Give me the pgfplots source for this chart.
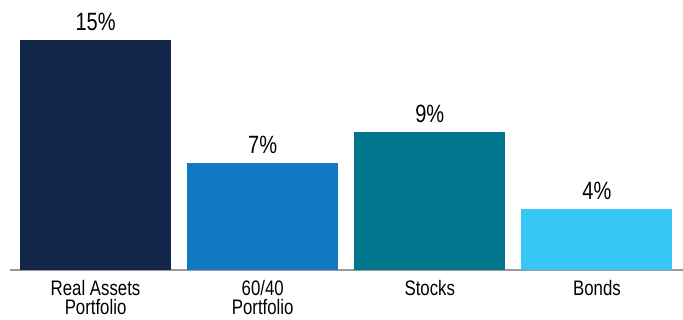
\documentclass[border=0pt]{standalone}
\usepackage{pgfplots}
\pgfplotsset{compat=1.18}
\usepackage{fontspec}
\setmainfont{Liberation Sans}[FakeStretch=0.8]
\definecolor{c1}{HTML}{12264A}
\definecolor{c2}{HTML}{1079C1}
\definecolor{c3}{HTML}{00778C}
\definecolor{c4}{HTML}{38C6F4}
\begin{document}
\begin{tikzpicture}
\begin{axis}[
  scale only axis,
  width=673pt, height=230pt,
  xmin=-0.512, xmax=3.515,
  ymin=0, ymax=15,
  axis y line=none,
  axis x line*=bottom,
  x axis line style={draw=gray!80, line width=1.5pt, -},
  xtick={0,1,2,3},
  xticklabels={{Real Assets\\Portfolio},{60/40\\Portfolio},{Stocks},{Bonds}},
  xticklabel style={font=\fontsize{21}{19}\selectfont, align=center, text=black, yshift=-7pt},
  major tick length=0pt,
  clip=false,
  bar width=151pt,
  /pgf/number format/assume math mode=true,
  nodes near coords={\pgfmathprintnumber{\pgfplotspointmeta}\%},
  every node near coord/.append style={font=\fontsize{25}{25}\selectfont, text=black, anchor=base, yshift=9pt},
]
\addplot[ybar, fill=c1, draw=none, bar shift=0pt] coordinates {(0,15)};
\addplot[ybar, fill=c2, draw=none, bar shift=0pt] coordinates {(1,7)};
\addplot[ybar, fill=c3, draw=none, bar shift=0pt] coordinates {(2,9)};
\addplot[ybar, fill=c4, draw=none, bar shift=0pt] coordinates {(3,4)};
\end{axis}
\pgfresetboundingbox
\path[use as bounding box] (-10pt,-50pt) rectangle (673pt,270pt);
\end{tikzpicture}
\end{document}
